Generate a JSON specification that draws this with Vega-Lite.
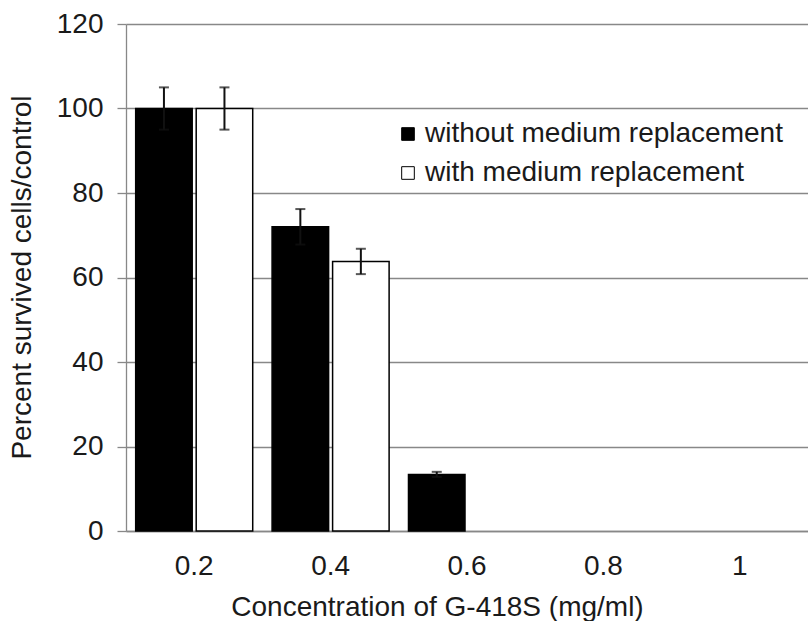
{
  "$schema": "https://vega.github.io/schema/vega-lite/v6.json",
  "width": 682,
  "height": 507,
  "autosize": {"type": "none"},
  "padding": {"left": 126, "top": 24, "right": 0, "bottom": 90},
  "background": "white",
  "config": {
    "font": "Liberation Sans",
    "view": {"stroke": null},
    "axis": {"labelColor": "#1a1a1a", "titleColor": "#1a1a1a", "labelFont": "Liberation Sans", "titleFont": "Liberation Sans", "titleFontWeight": "normal"}
  },
  "data": {
    "values": [
      {"conc": "0.2", "series": "without medium replacement", "value": 100, "lo": 95, "hi": 105},
      {"conc": "0.2", "series": "with medium replacement", "value": 100, "lo": 95, "hi": 105},
      {"conc": "0.4", "series": "without medium replacement", "value": 72, "lo": 67.8, "hi": 76.2},
      {"conc": "0.4", "series": "with medium replacement", "value": 63.8, "lo": 60.8, "hi": 66.8},
      {"conc": "0.6", "series": "without medium replacement", "value": 13.4, "lo": 12.8, "hi": 14.0},
      {"conc": "0.6", "series": "with medium replacement", "value": 0, "lo": 0, "hi": 0},
      {"conc": "0.8", "series": "without medium replacement", "value": 0, "lo": 0, "hi": 0},
      {"conc": "0.8", "series": "with medium replacement", "value": 0, "lo": 0, "hi": 0},
      {"conc": "1", "series": "without medium replacement", "value": 0, "lo": 0, "hi": 0},
      {"conc": "1", "series": "with medium replacement", "value": 0, "lo": 0, "hi": 0}
    ]
  },
  "encoding": {
    "x": {
      "field": "conc", "type": "nominal", "sort": ["0.2", "0.4", "0.6", "0.8", "1"],
      "scale": {"paddingInner": 0.142, "paddingOuter": 0.071},
      "axis": {
        "title": "Concentration of G-418S (mg/ml)",
        "labelAngle": 0, "labelFontSize": 28, "labelPadding": 21, "ticks": false, "tickSize": 0,
        "labelBaseline": "top",
        "domainColor": "#888888", "domainWidth": 1.3,
        "titleFontSize": 28, "titleX": 311, "titleY": 84, "titleBaseline": "alphabetic", "titleAlign": "center", "titleAnchor": null
      }
    },
    "xOffset": {
      "field": "series", "type": "nominal", "sort": ["without medium replacement", "with medium replacement"],
      "scale": {"paddingInner": 0.066, "paddingOuter": 0}
    }
  },
  "layer": [
    {
      "mark": {"type": "bar", "stroke": "black"},
      "encoding": {
        "y": {
          "field": "value", "type": "quantitative",
          "scale": {"domain": [0, 120], "nice": false},
          "axis": {
            "title": "Percent survived cells/control",
            "values": [0, 20, 40, 60, 80, 100, 120],
            "labelFontSize": 28, "labelPadding": 14, "tickSize": 9, "tickColor": "#888888", "tickWidth": 1.3,
            "grid": true, "gridColor": "#888888", "gridWidth": 1.3,
            "domainColor": "#888888", "domainWidth": 1.3,
            "titleFontSize": 28, "titleX": -104, "titleY": 253, "titleBaseline": "middle", "titleAngle": -90
          }
        },
        "fill": {
          "field": "series", "type": "nominal",
          "scale": {"domain": ["without medium replacement", "with medium replacement"], "range": ["black", "white"]},
          "legend": {
            "title": null, "orient": "none", "legendX": 268, "legendY": 96,
            "symbolType": "square", "symbolSize": 160, "symbolStrokeColor": "black", "symbolStrokeWidth": 1,
            "labelFontSize": 28, "labelFont": "Liberation Sans", "labelColor": "#1a1a1a", "labelOffset": 3, "labelLimit": 0, "rowPadding": 11
          }
        },
        "strokeWidth": {"condition": {"test": "datum.value == 0", "value": 0}, "value": 1.5}
      }
    },
    {
      "transform": [{"filter": "datum.hi > datum.lo"}],
      "mark": {"type": "rule", "color": "#111111", "strokeWidth": 2},
      "encoding": {
        "y": {"field": "lo", "type": "quantitative"},
        "y2": {"field": "hi"}
      }
    },
    {
      "transform": [{"filter": "datum.hi > datum.lo"}],
      "mark": {"type": "tick", "color": "#111111", "thickness": 2, "size": 10, "orient": "horizontal"},
      "encoding": {
        "y": {"field": "hi", "type": "quantitative"}
      }
    },
    {
      "transform": [{"filter": "datum.hi > datum.lo"}],
      "mark": {"type": "tick", "color": "#111111", "thickness": 2, "size": 10, "orient": "horizontal"},
      "encoding": {
        "y": {"field": "lo", "type": "quantitative"}
      }
    }
  ]
}
